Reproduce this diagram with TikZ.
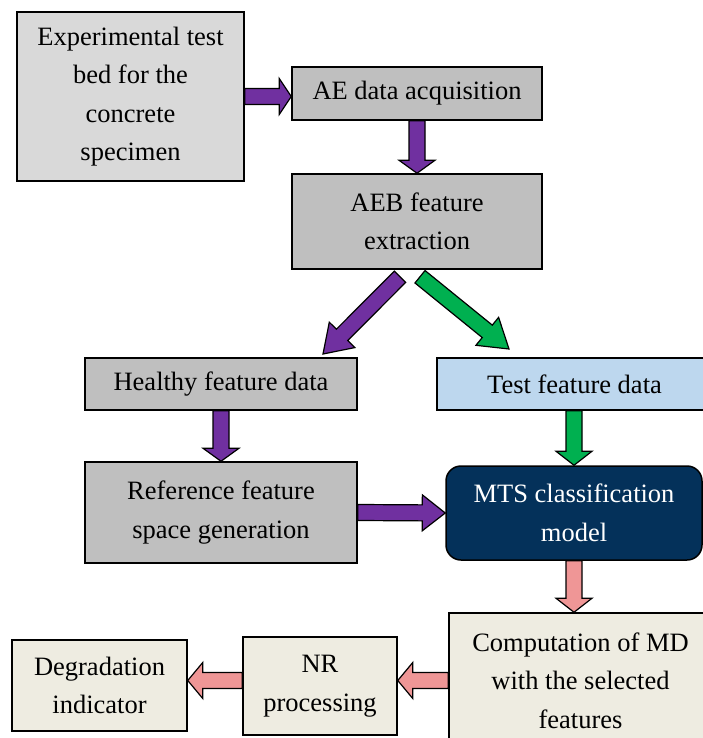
\documentclass[tikz,border=0pt]{standalone}
\usepackage{fontspec}
\setmainfont{Liberation Serif}
\usetikzlibrary{calc}
\definecolor{lightbox}{HTML}{D9D9D9}
\definecolor{midbox}{HTML}{BFBFBF}
\definecolor{testblue}{HTML}{BDD7EE}
\definecolor{mtsnavy}{HTML}{04315A}
\definecolor{beige}{HTML}{EEECE1}
\definecolor{flowpurple}{HTML}{7030A0}
\definecolor{flowgreen}{HTML}{00B050}
\definecolor{flowpink}{HTML}{EF9696}
\tikzset{
  block/.style={draw=black, line width=1.5pt, align=center, inner sep=0pt,
    font=\fontsize{26.5}{38.5}\selectfont},
}
% fat outlined arrow: [head length]{from}{to}{colour}
\newcommand\fatarrow[4][13]{%
  \coordinate (neck) at ($(#3)!#1pt!(#2)$);
  \filldraw[fill=#4, draw=black, line width=1.2pt, line join=miter]
    ($(#2)!8pt!90:(#3)$) -- ($(neck)!8pt!-90:(#2)$) -- ($(neck)!18pt!-90:(#2)$) -- (#3)
    -- ($(neck)!18pt!90:(#2)$) -- ($(neck)!8pt!90:(#2)$) -- ($(#2)!8pt!-90:(#3)$) -- cycle;
}

\begin{document}
\begin{tikzpicture}[x=1pt,y=-1pt]
        \path[use as bounding box, fill=white] (0,0) rectangle (702,738);

        %top row
        \node[block, fill=lightbox, minimum width=227pt, minimum height=169pt] (exp) at (130.5,96.5)
          {Experimental test\\bed for the\\concrete\\specimen};
        \node[block, fill=midbox, minimum width=250pt, minimum height=53pt] (ae) at (417,93.5)
          {AE data acquisition};
        \node[block, fill=midbox, minimum width=250pt, minimum height=95pt] (aeb) at (417,221.5)
          {AEB feature\\extraction};

        %feature data
        \node[block, fill=midbox, minimum width=272pt, minimum height=52pt] (healthy) at (221,384)
          {Healthy feature data};
        \node[block, fill=testblue, minimum width=275pt, minimum height=52pt] (test) at (574.5,384)
          {Test feature data};
        \node[block, fill=midbox, minimum width=272pt, minimum height=101pt] (ref) at (221,512.5)
          {Reference feature\\space generation};
        \node[block, fill=mtsnavy, text=white, rounded corners=15pt, minimum width=256pt, minimum height=94pt] (mts) at (574,513)
          {MTS classification\\model};

        %bottom row
        \node[block, fill=beige, minimum width=263pt, minimum height=135pt] (comp) at (580.5,680.5)
          {Computation of MD\\with the selected\\features};
        \node[block, fill=beige, minimum width=154pt, minimum height=98pt] (nr) at (320,686)
          {NR\\processing};
        \node[block, fill=beige, minimum width=175pt, minimum height=91pt] (deg) at (99.5,685.5)
          {Degradation\\indicator};

        %arrow ends
        \coordinate (aein) at (exp.east -| ae.west);
        \coordinate (splitl) at ($(aeb.south)+(-17,7)$);
        \coordinate (splitr) at ($(aeb.south)+(3,7)$);
        \coordinate (tipl) at (323,354);
        \coordinate (tipr) at (509,349);
        \coordinate (testout) at (test.south -| mts.north);
        \coordinate (compin) at (mts.south |- comp.north);
        \coordinate (nrin) at (comp.west -| nr.east);
        \coordinate (nrout) at (comp.west -| nr.west);
        \coordinate (degin) at (comp.west -| deg.east);

        %purple flow
        \fatarrow[12]{exp.east}{aein}{flowpurple}
        \fatarrow{ae.south}{aeb.north}{flowpurple}
        \fatarrow[27]{splitl}{tipl}{flowpurple}
        \fatarrow{healthy.south}{ref.north}{flowpurple}
        \fatarrow[23]{ref.east}{mts.west}{flowpurple}

        %green flow
        \fatarrow[28]{splitr}{tipr}{flowgreen}
        \fatarrow[14]{testout}{mts.north}{flowgreen}

        %pink flow
        \fatarrow[14]{mts.south}{compin}{flowpink}
        \fatarrow[15]{comp.west}{nrin}{flowpink}
        \fatarrow[15]{nrout}{degin}{flowpink}
\end{tikzpicture}
\end{document}
